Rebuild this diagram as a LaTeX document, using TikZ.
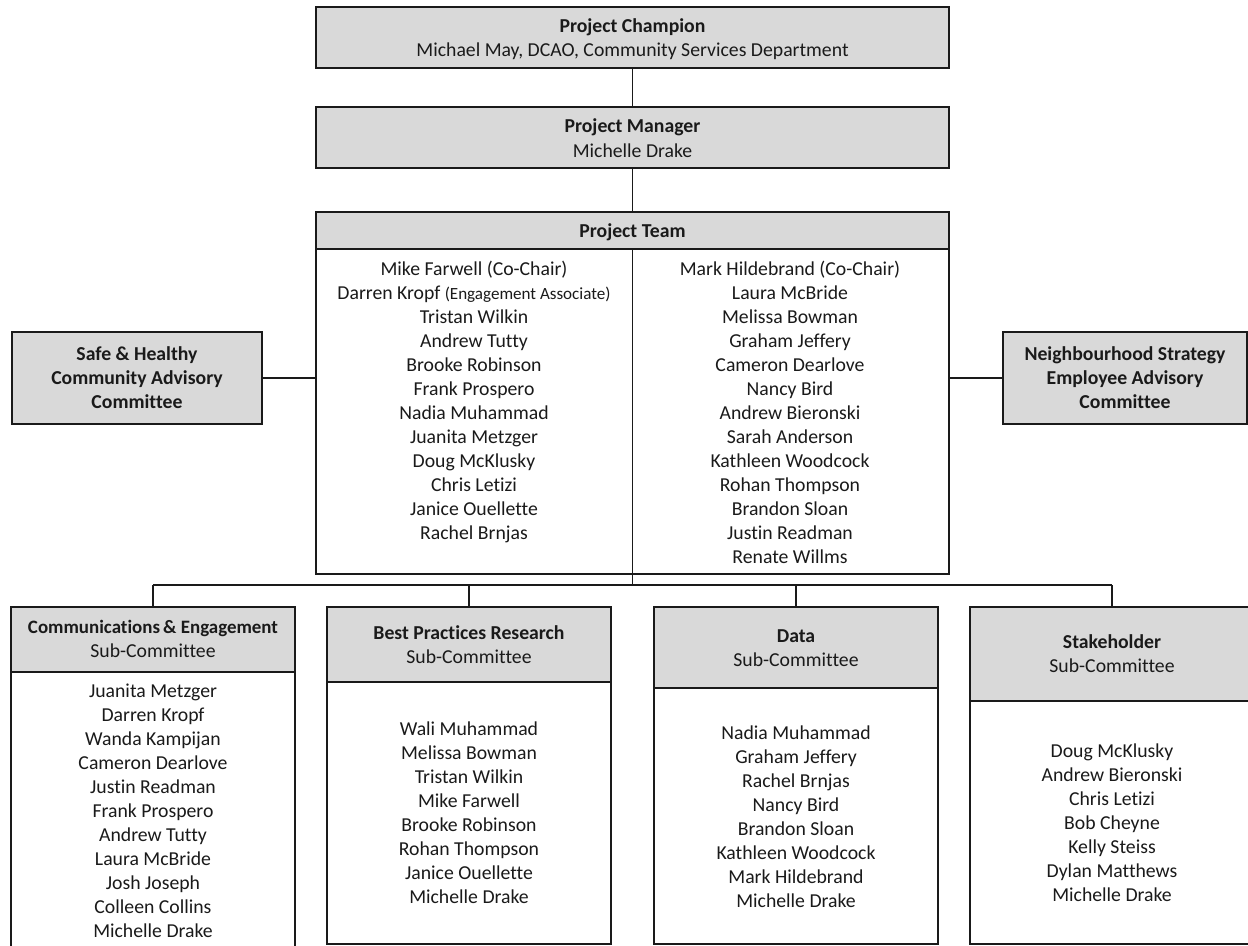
\documentclass[tikz,border=0pt]{standalone}
\usepackage{fontspec}
\setmainfont{Carlito}[Ligatures=NoCommon]
\usetikzlibrary{fit}
\definecolor{boxgray}{HTML}{D9D9D9}
\definecolor{ink}{HTML}{1A1A1A}
\begin{document}
\begin{tikzpicture}[x=0.75pt,y=-0.75pt,
  frame/.style={draw=ink, line width=1.15pt, inner sep=0pt, outer sep=0pt},
  hdr/.style={frame, fill=boxgray},
  bodybox/.style={frame, fill=white},
  txt/.style={font=\fontsize{14.8}{18}\selectfont, text=ink, align=center, inner sep=0pt, anchor=base},
  link/.style={draw=ink, line width=1.15pt}]
\useasboundingbox (0,0) rectangle (1248,945);
% top boxes (text nodes anchored at the baseline of their last line)
\node[hdr, fit={(316,7)(949,68)}] (champ) {};
\node[txt] (champtxt) at (632.5,57) {\textbf{Project Champion}\\Michael May, DCAO, Community Services Department};
\node[hdr, fit={(316,107)(949,168)}] (mgr) {};
\node[txt] (mgrtxt) at (632.5,157) {\textbf{Project Manager}\\Michelle Drake};
% project team
\node[hdr, fit={(316,212)(949,249)}] (teamhdr) {};
\node[txt] (teamtxt) at (632.5,237) {\textbf{Project Team}};
\node[bodybox, fit={(316,249)(949,574)}] (teambody) {};
\node[txt] (teamleft) at (474,539) {Mike Farwell (Co-Chair)\\
Darren Kropf {\fontsize{12.8}{18}\selectfont(Engagement Associate)}\\
Tristan Wilkin\\Andrew Tutty\\Brooke Robinson\\Frank Prospero\\Nadia Muhammad\\
Juanita Metzger\\Doug McKlusky\\Chris Letizi\\Janice Ouellette\\Rachel Brnjas};
\node[txt] (teamright) at (790,563) {Mark Hildebrand (Co-Chair)\\Laura McBride\\Melissa Bowman\\
Graham Jeffery\\Cameron Dearlove\\Nancy Bird\\Andrew Bieronski\\Sarah Anderson\\
Kathleen Woodcock\\Rohan Thompson\\Brandon Sloan\\Justin Readman\\Renate Willms};
% advisory committees
\node[hdr, fit={(12,332)(262,424)}] (safe) {};
\node[txt] (safetxt) at (137,408) {\textbf{Safe \& Healthy}\\\textbf{Community Advisory}\\\textbf{Committee}};
\node[hdr, fit={(1003,332)(1247,424)}] (neigh) {};
\node[txt] (neightxt) at (1125,408) {\textbf{Neighbourhood Strategy}\\\textbf{Employee Advisory}\\\textbf{Committee}};
% sub-committees
\node[hdr, fit={(11,607)(295,672)}] (commhdr) {};
\node[bodybox, fit={(11,672)(295,960)}] (commbody) {};
\node[txt] (commtitle) at (153,657) {{\fontsize{14.2}{18}\selectfont\bfseries Communications\,\& Engagement}\\Sub-Committee};
\node[txt] (commnames) at (153,937) {Juanita Metzger\\Darren Kropf\\Wanda Kampijan\\Cameron Dearlove\\
Justin Readman\\Frank Prospero\\Andrew Tutty\\Laura McBride\\Josh Joseph\\Colleen Collins\\Michelle Drake};
\node[hdr, fit={(327,607)(611,682)}] (bphdr) {};
\node[bodybox, fit={(327,682)(611,944)}] (bpbody) {};
\node[txt] (bptitle) at (469,663) {\textbf{Best Practices Research}\\Sub-Committee};
\node[txt] (bpnames) at (469,903) {Wali Muhammad\\Melissa Bowman\\Tristan Wilkin\\Mike Farwell\\
Brooke Robinson\\Rohan Thompson\\Janice Ouellette\\Michelle Drake};
\node[hdr, fit={(654,607)(938,688)}] (datahdr) {};
\node[bodybox, fit={(654,688)(938,944)}] (databody) {};
\node[txt] (datatitle) at (796,666) {\textbf{Data}\\Sub-Committee};
\node[txt] (datanames) at (796,907) {Nadia Muhammad\\Graham Jeffery\\Rachel Brnjas\\Nancy Bird\\
Brandon Sloan\\Kathleen Woodcock\\Mark Hildebrand\\Michelle Drake};
\node[hdr, fit={(970,607)(1254,701)}] (stakehdr) {};
\node[bodybox, fit={(970,701)(1254,944)}] (stakebody) {};
\node[txt] (staketitle) at (1112,672) {\textbf{Stakeholder}\\Sub-Committee};
\node[txt] (stakenames) at (1112,901) {Doug McKlusky\\Andrew Bieronski\\Chris Letizi\\Bob Cheyne\\
Kelly Steiss\\Dylan Matthews\\Michelle Drake};
% connectors
\coordinate (bus) at (632.5,585);
\draw[link] (champ.south) -- (mgr.north);
\draw[link] (mgr.south) -- (teamhdr.north);
\draw[link] (safe.east) -- (safe.east -| teambody.west);
\draw[link] (neigh.west) -- (neigh.west -| teambody.east);
\draw[link] (teamhdr.south) -- (bus);
\draw[link] (commhdr.north |- bus) -- (stakehdr.north |- bus);
\draw[link] (commhdr.north) -- (commhdr.north |- bus);
\draw[link] (bphdr.north) -- (bphdr.north |- bus);
\draw[link] (datahdr.north) -- (datahdr.north |- bus);
\draw[link] (stakehdr.north) -- (stakehdr.north |- bus);
\end{tikzpicture}
\end{document}
